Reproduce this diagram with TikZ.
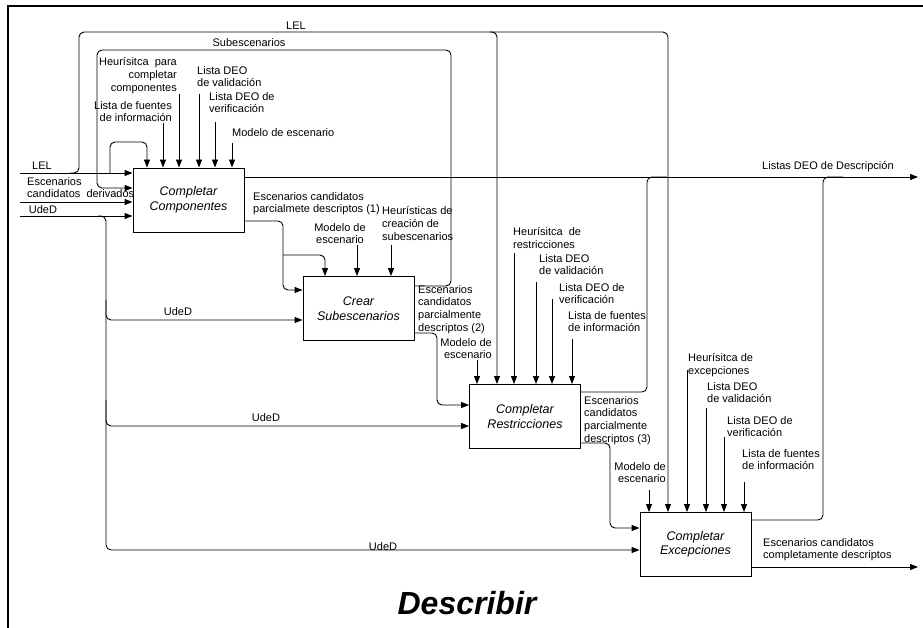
\documentclass[tikz,border=0pt]{standalone}
\usepackage{fontspec}
\setmainfont{Liberation Sans}
\usetikzlibrary{calc,arrows.meta}
\tikzstyle{procbox} = [
    draw,
    rectangle,
    line width=0.9pt,
    minimum width=111pt,
    minimum height=64pt,
    inner sep=0pt,
    align=center,
    font=\fontsize{12.5}{14.5}\selectfont\itshape
    ]
\tikzstyle{lbl} = [
    inner sep=0pt,
    font=\fontsize{11}{12.8}\selectfont
    ]
\tikzstyle{flow} = [line width=0.9pt, rounded corners=5pt, -{Triangle[length=8pt,width=6pt]}]
\tikzstyle{link} = [line width=0.9pt, rounded corners=5pt]

\begin{document}
\begin{tikzpicture}[x=1pt,y=-1pt]
\useasboundingbox (0,0) rectangle (923,628);
\draw[line width=1.2pt] (8,628) -- (8,6) -- (923,6);

% actividades
\node[procbox] (comp) at (188.5,200) {Completar\\Componentes};
\node[procbox] (crear) at (358.5,308.5) {Crear\\Subescenarios};
\node[procbox] (restr) at (525,416.5) {Completar\\Restricciones};
\node[procbox] (excep) at (695.5,544.5) {Completar\\Excepciones};

% textos
\node[lbl] (lelL) at (42,166) {LEL};
\node[lbl, anchor=north west, align=left] (ecdL) at (27,177) {Escenarios\\candidatos\ \ derivados};
\node[lbl] (udL) at (43,210) {UdeD};
\node[lbl] (subL) at (249,43) {Subescenarios};
\node[lbl] (lelT) at (296,26) {LEL};
\node[lbl, anchor=north east, align=right] (hpcL) at (177,57.5) {Heurísitca\ \ para\\completar\\componentes};
\node[lbl, anchor=north east, align=right] (lfiL) at (172,101) {Lista de fuentes\\de información};
\node[lbl, anchor=north west, align=left] (dvaL) at (197,66) {Lista DEO\\de validación};
\node[lbl, anchor=north west, align=left] (dveL) at (209,92) {Lista DEO de\\verificación};
\node[lbl, anchor=north west] (modL) at (232,128) {Modelo de escenario};
\node[lbl, anchor=north west, align=left] (ep1L) at (253,192) {Escenarios candidatos\\parcialmete descriptos (1)};
\node[lbl, anchor=north, align=center] (mod2L) at (340,223) {Modelo de\\escenario};
\node[lbl, anchor=north west, align=left] (hcsL) at (382,206.5) {Heurísticas de\\creación de\\subescenarios};
\node[lbl, anchor=north west, align=left] (ep2L) at (418,285) {Escenarios\\candidatos\\parcialmente\\descriptos (2)};
\node[lbl, anchor=north east, align=right] (mod3L) at (492,338) {Modelo de\\escenario};
\node[lbl, anchor=north west, align=left] (hrL) at (513,227.5) {Heurísitca\ \ de\\restricciones};
\node[lbl, anchor=north west, align=left] (dva3L) at (539,254) {Lista DEO\\de validación};
\node[lbl, anchor=north west, align=left] (dve3L) at (559,283) {Lista DEO de\\verificación};
\node[lbl, anchor=north west, align=left] (lfi3L) at (568,311) {Lista de fuentes\\de información};
\node[lbl, anchor=north west, align=left] (ep3L) at (584,396) {Escenarios\\candidatos\\parcialmente\\descriptos (3)};
\node[lbl, anchor=north east, align=right] (mod4L) at (666,462) {Modelo de\\escenario};
\node[lbl, anchor=north west, align=left] (heL) at (688,353.5) {Heurísitca de\\excepciones};
\node[lbl, anchor=north west, align=left] (dva4L) at (707,382) {Lista DEO\\de validación};
\node[lbl, anchor=north west, align=left] (dve4L) at (727,416) {Lista DEO de\\verificación};
\node[lbl, anchor=north west, align=left] (lfi4L) at (742,449) {Lista de fuentes\\de información};
\node[lbl, anchor=north west, align=left] (ecfL) at (763,538) {Escenarios candidatos\\completamente descriptos};
\node[lbl, anchor=west] (listL) at (762,167) {Listas DEO de Descripción};
\node[lbl] (ud1L) at (178,312) {UdeD};
\node[lbl] (ud2L) at (266,418) {UdeD};
\node[lbl] (ud3L) at (383,547) {UdeD};
\node[font=\fontsize{32}{36}\selectfont\bfseries\itshape, inner sep=0pt] (title) at (467,603) {Describir};

% entradas
\coordinate (lelin) at (20,173);
\coordinate (ecdin) at (20,202);
\coordinate (udin) at (20,216);
\draw[flow] (lelin) -- (lelin -| comp.west);
\draw[flow] (ecdin) -- (ecdin -| comp.west);
\draw[flow] (udin) -- (udin -| comp.west);

% LEL
\coordinate (lelup) at (70,173);
\coordinate (lelbump) at (110,173);
\coordinate (lelfork) at (490,32);
\draw[flow] (lelup) -| (79,32) -| (497,0 |- restr.north);
\draw[flow] (lelfork) -| (668,0 |- excep.north);
\draw[flow] (lelbump) |- (147,142) -- (147,0 |- comp.north);

% Subescenarios
\draw[flow] (crear.north east |- 0,286) -| (451,50) -| (97,188) -- (97,188 -| comp.west);

% Listas DEO de Descripcion
\coordinate (listout) at (918,177);
\draw[flow] (comp.north east |- listout) -- (listout);
\draw[link] (restr.north east |- 0,392) -| (647,177) -- (667,177);
\draw[link] (excep.north east |- 0,520) -| (823,177) -- (843,177);

% escenarios parciales
\coordinate (br1) at (283,255);
\draw[flow] (comp.north east |- 0,221) -| (283,290) -- (283,290 -| crear.west);
\draw[flow] (br1) -| (325,0 |- crear.north);
\draw[flow] (crear.north east |- 0,333) -| (437,405) -- (437,405 -| restr.west);
\draw[flow] (restr.north east |- 0,443) -| (610,528) -- (610,528 -| excep.west);
\coordinate (ecout) at (918,567);
\draw[flow] (excep.east |- ecout) -- (ecout);

% UdeD
\coordinate (udsplit) at (98,216);
\coordinate (ud1) at (106,300);
\coordinate (ud2) at (106,400);
\draw[flow] (udsplit) -| (106,550) -- (106,550 -| excep.west);
\draw[flow] (ud1) |- (106,320 -| crear.west);
\draw[flow] (ud2) |- (106,426 -| restr.west);

% controles
\coordinate (cc1) at (163,123);
\coordinate (cc2) at (179,94);
\coordinate (cc3) at (199,94);
\coordinate (cc4) at (215,122);
\coordinate (cc5) at (232,143);
\coordinate (sc1) at (357,245);
\coordinate (sc2) at (391,245);
\coordinate (rc1) at (477,360);
\coordinate (rc2) at (514,253);
\coordinate (rc3) at (536,282);
\coordinate (rc4) at (552,299);
\coordinate (rc5) at (572,339);
\coordinate (xc1) at (649,490);
\coordinate (xc2) at (687,370);
\coordinate (xc3) at (706,408);
\coordinate (xc4) at (724,437);
\coordinate (xc5) at (744,482);
\foreach \c in {cc1,cc2,cc3,cc4,cc5}
    \draw[flow] (\c) -- (\c |- comp.north);
\foreach \c in {sc1,sc2}
    \draw[flow] (\c) -- (\c |- crear.north);
\foreach \c in {rc1,rc2,rc3,rc4,rc5}
    \draw[flow] (\c) -- (\c |- restr.north);
\foreach \c in {xc1,xc2,xc3,xc4,xc5}
    \draw[flow] (\c) -- (\c |- excep.north);
\end{tikzpicture}
\end{document}
